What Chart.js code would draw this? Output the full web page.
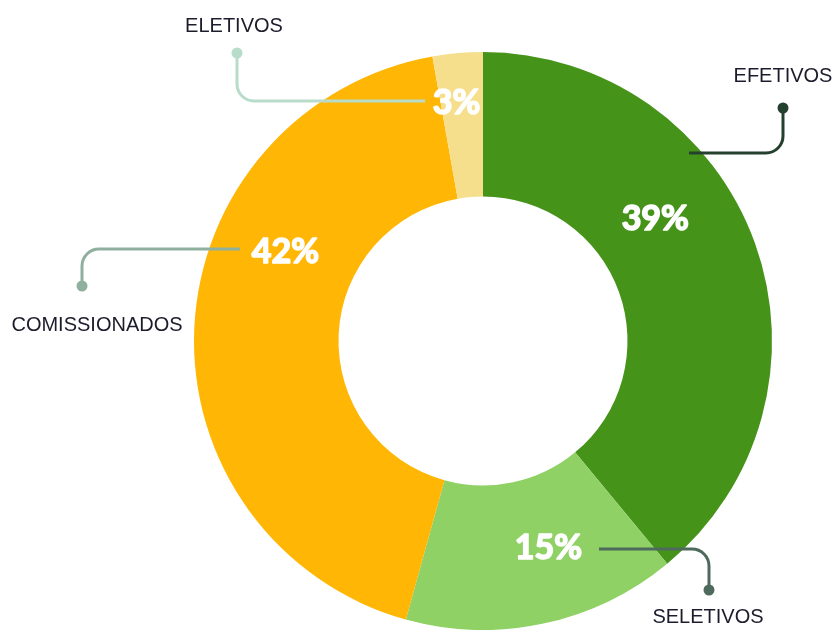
<!DOCTYPE html>
<html>
<head>
<meta charset="utf-8">
<script src="https://cdn.jsdelivr.net/npm/chart.js@4/dist/chart.umd.min.js"></script>
<style>
  html, body { margin: 0; padding: 0; background: #fff; }
  #wrap { width: 834px; height: 630px; }
</style>
</head>
<body>
<div id="wrap"><canvas id="myChart" width="834" height="630"></canvas></div>
<script>
// data
var categories = ['EFETIVOS', 'SELETIVOS', 'COMISSIONADOS', 'ELETIVOS'];
var shares = [39, 15.3, 42.9, 2.8];
var shareLabels = ['39%', '15%', '42%', '3%'];
var colors = ['#46931a', '#8fd164', '#ffb605', '#f5df8d'];

// where each % label sits inside its arc (t = along arc, k = across ring)
var labelPos = [
    { t: 0.39, k: 0.46 },
    { t: 0.40, k: 0.50 },
    { t: 0.64, k: 0.50 },
    { t: 0.37, k: 0.66 }
];

// leader lines, offsets from the doughnut centre
var callouts = [
    { from: [206, -188], dot: [300, -233], text: [300, -265], color: '#24402e' },
    { from: [116, 208], dot: [226, 249], text: [225, 276], color: '#4e6a5c' },
    { from: [-243, -92], dot: [-401, -55], text: [-386, -16], color: '#8fb09f' },
    { from: [-58, -240], dot: [-246, -288], text: [-249, -315], color: '#b7dcc9' }
];

var calloutPlugin = {
    id: 'callouts',
    afterDatasetsDraw: function(chart) {
        var ctx = chart.ctx;
        var arcs = chart.getDatasetMeta(0).data;
        ctx.save();
        arcs.forEach(function(arc, i) {
            var p = arc.getProps(['x', 'y', 'startAngle', 'endAngle', 'innerRadius', 'outerRadius'], true);
            var cx = p.x, cy = p.y;
            var c = callouts[i];

            // leader line with rounded corner
            ctx.strokeStyle = c.color;
            ctx.fillStyle = c.color;
            ctx.lineWidth = 3;
            ctx.beginPath();
            ctx.moveTo(cx + c.from[0], cy + c.from[1]);
            ctx.arcTo(cx + c.dot[0], cy + c.from[1], cx + c.dot[0], cy + c.dot[1], 17);
            ctx.lineTo(cx + c.dot[0], cy + c.dot[1]);
            ctx.stroke();
            ctx.beginPath();
            ctx.arc(cx + c.dot[0], cy + c.dot[1], 5.5, 0, Math.PI * 2);
            ctx.fill();

            // category name
            ctx.fillStyle = '#1c1c2c';
            ctx.font = '20px "Liberation Sans", Arial, sans-serif';
            ctx.textAlign = 'center';
            ctx.textBaseline = 'middle';
            ctx.fillText(categories[i], cx + c.text[0], cy + c.text[1]);

            // percentage inside the ring
            var lp = labelPos[i];
            var a = p.startAngle + lp.t * (p.endAngle - p.startAngle);
            var r = p.innerRadius + lp.k * (p.outerRadius - p.innerRadius);
            var lx = cx + Math.cos(a) * r, ly = cy + Math.sin(a) * r;
            ctx.fillStyle = '#ffffff';
            ctx.strokeStyle = '#ffffff';
            ctx.lineWidth = 1.6;
            ctx.lineJoin = 'round';
            ctx.font = 'bold 34px Lato, "Open Sans", sans-serif';
            ctx.strokeText(shareLabels[i], lx, ly);
            ctx.fillText(shareLabels[i], lx, ly);
        });
        ctx.restore();
    }
};

var ctx = document.getElementById('myChart').getContext('2d');
var chart = new Chart(ctx, {
    type: 'doughnut',
    data: {
        labels: categories,
        datasets: [{
            data: shares,
            backgroundColor: colors,
            borderWidth: 0,
            hoverOffset: 0
        }]
    },
    options: {
        responsive: false,
        animation: false,
        cutout: '50%',
        layout: {
            padding: { top: 52, bottom: 0, left: 193, right: 61 }
        },
        plugins: {
            legend: { display: false },
            tooltip: { enabled: false }
        }
    },
    plugins: [calloutPlugin]
});
</script>
</body>
</html>
